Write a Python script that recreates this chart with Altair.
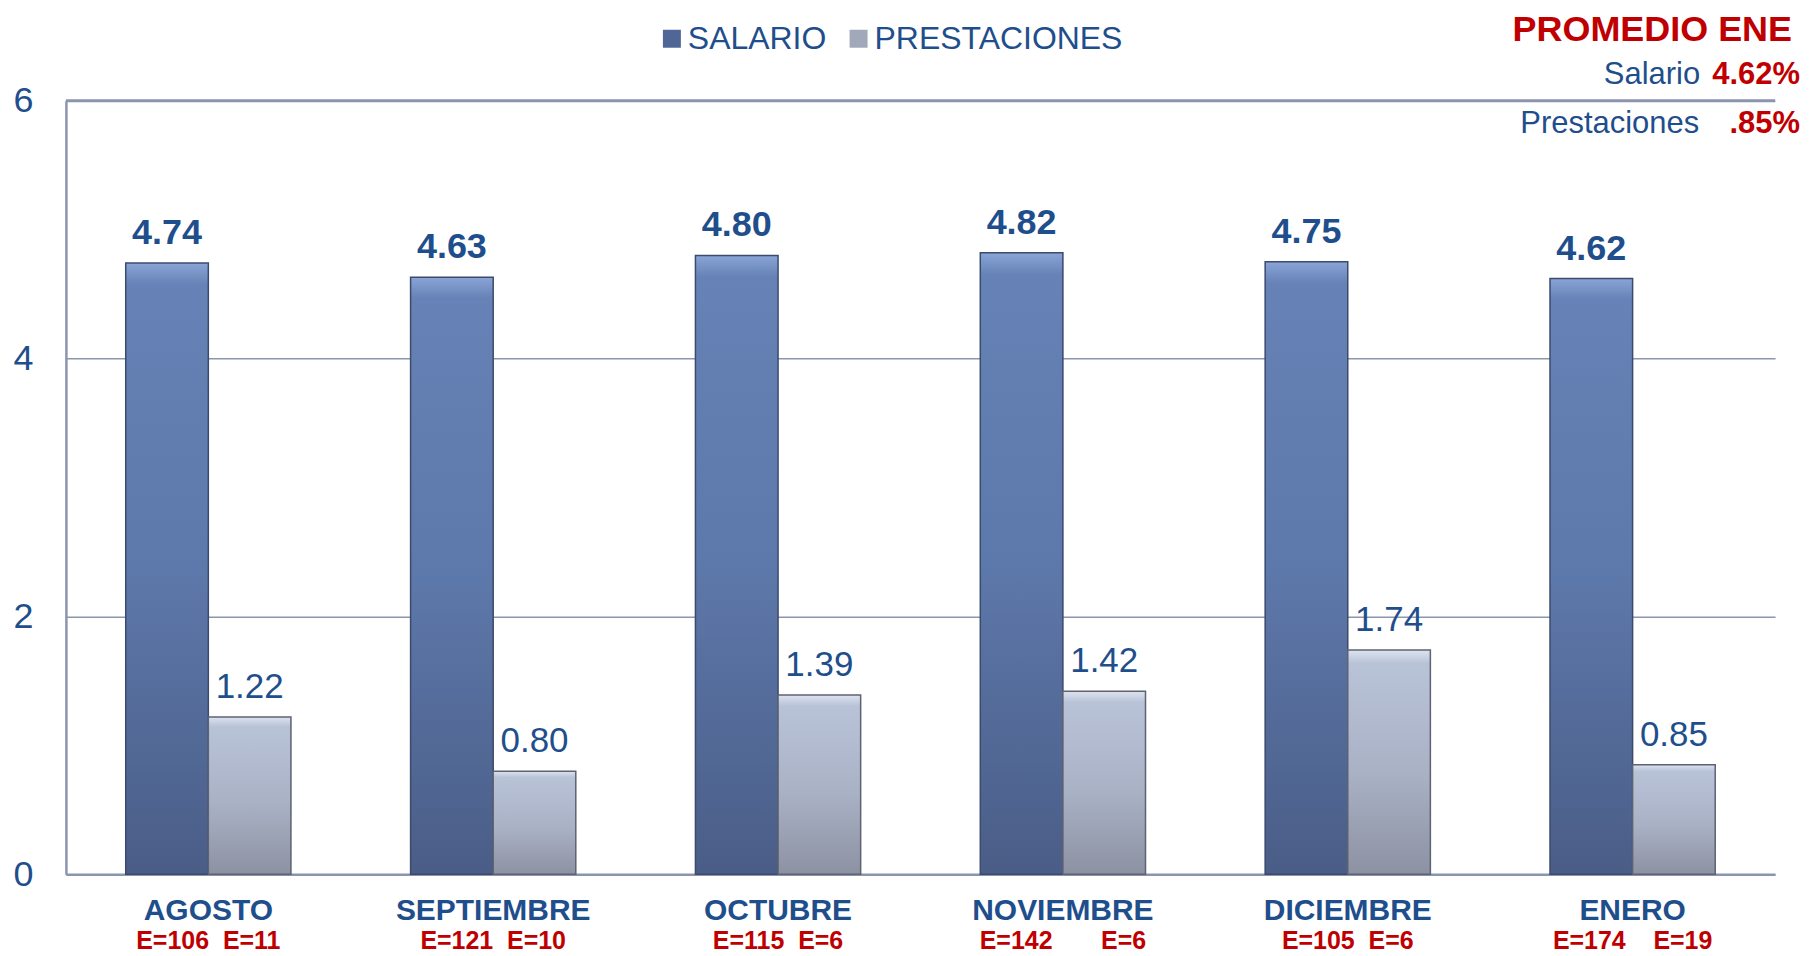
import altair as alt
import pandas as pd

# ---- data ----
months = ["AGOSTO", "SEPTIEMBRE", "OCTUBRE", "NOVIEMBRE", "DICIEMBRE", "ENERO"]
series = ["SALARIO", "PRESTACIONES"]
salario = [4.74, 4.63, 4.80, 4.82, 4.75, 4.62]
prestaciones = [1.22, 0.80, 1.39, 1.42, 1.74, 0.85]
NB = "\u00a0"
e_labels = [
    "E=106" + NB * 2 + "E=11",
    "E=121" + NB * 2 + "E=10",
    NB * 2 + "E=115" + NB * 2 + "E=6",
    "E=142" + NB * 7 + "E=6",
    "E=105" + NB * 2 + "E=6",
    "E=174" + NB * 4 + "E=19",
]
y_ticks = [0, 2, 4, 6]
promedio_title = ["PROMEDIO ENE"]
promedio_names = ["Salario", "Prestaciones"]
promedio_values = ["4.62%", ".85%"]

# ---- styles ----
F = "Liberation Sans"
BLUE = "#1F4E8C"
RED = "#C00000"
GRID = "#8B95AE"
W, H = 1712, 775

rows = []
for m, s, p in zip(months, salario, prestaciones):
    rows.append({"mes": m, "serie": "SALARIO", "valor": s})
    rows.append({"mes": m, "serie": "PRESTACIONES", "valor": p})
df = pd.DataFrame(rows)
df_e = pd.DataFrame({"mes": months, "e": e_labels})

x_enc = alt.X(
    "mes:N",
    sort=months,
    scale=alt.Scale(paddingInner=0.42, paddingOuter=0.21),
    axis=alt.Axis(
        title=None, labelFont=F, labelFontSize=30, labelFontWeight="bold",
        labelColor=BLUE, labelPadding=45, labelBaseline="alphabetic",
        labelAngle=0, labelLimit=0, ticks=False, tickSize=0, domainColor=GRID,
        domainWidth=2.5, grid=False,
    ),
)
y_enc = alt.Y(
    "valor:Q",
    scale=alt.Scale(domain=[0, 6], nice=False, zero=True),
    axis=alt.Axis(
        title=None, values=y_ticks, format="d", labelFont=F, labelFontSize=36,
        labelColor=BLUE, labelPadding=33, ticks=False, tickSize=0,
        gridColor=GRID, gridWidth=1.4, domainColor=GRID, domainWidth=2.5,
    ),
)
xo_enc = alt.XOffset(
    "serie:N", sort=series,
    scale=alt.Scale(domain=series, paddingInner=0, paddingOuter=0),
)

base = alt.Chart(df)

bars = base.mark_bar().encode(
    x=x_enc, y=y_enc, xOffset=xo_enc,
    color=alt.Color(
        "serie:N",
        scale=alt.Scale(domain=series, range=["#4F6696", "#A0A8BA"]),
        legend=alt.Legend(
            title=None, orient="none", legendX=591, legendY=-78,
            direction="horizontal", symbolType="square", symbolSize=324,
            symbolStrokeWidth=0, symbolOpacity=1, labelFont=F,
            labelFontSize=32, labelColor=BLUE, labelOffset=0, labelLimit=0,
            columnPadding=16, padding=0,
        ),
    ),
)

sal_grad = alt.Gradient(
    gradient="linear", x1=0, x2=0, y1=0, y2=1,
    stops=[
        alt.GradientStop(color="#8AA4D6", offset=0),
        alt.GradientStop(color="#6682B6", offset=0.035),
        alt.GradientStop(color="#5D78AA", offset=0.5),
        alt.GradientStop(color="#4A5D87", offset=1),
    ],
)
pre_grad = alt.Gradient(
    gradient="linear", x1=0, x2=0, y1=0, y2=1,
    stops=[
        alt.GradientStop(color="#DCE3F0", offset=0),
        alt.GradientStop(color="#B9C3D8", offset=0.06),
        alt.GradientStop(color="#A9B1C5", offset=0.55),
        alt.GradientStop(color="#8C92A2", offset=1),
    ],
)

sal_bars = base.transform_filter(alt.datum.serie == "SALARIO").mark_bar(
    fill=sal_grad, stroke="#3C4B6C", strokeWidth=1.5
).encode(x=x_enc, y=y_enc, xOffset=xo_enc)

pre_bars = base.transform_filter(alt.datum.serie == "PRESTACIONES").mark_bar(
    fill=pre_grad, stroke="#5E6372", strokeWidth=1.5
).encode(x=x_enc, y=y_enc, xOffset=xo_enc)

top_rule = alt.Chart(pd.DataFrame({"valor": [6]})).mark_rule(
    color=GRID, strokeWidth=3
).encode(y=alt.Y("valor:Q"))

lab_sal = base.transform_filter(alt.datum.serie == "SALARIO").mark_text(
    font=F, fontSize=36, fontWeight="bold", color=BLUE,
    baseline="alphabetic", dy=-19,
).encode(x=x_enc, y=y_enc, xOffset=xo_enc, text=alt.Text("valor:Q", format=".2f"))

lab_pre = base.transform_filter(alt.datum.serie == "PRESTACIONES").mark_text(
    font=F, fontSize=35, fontWeight="normal", color=BLUE,
    baseline="alphabetic", dy=-19,
).encode(x=x_enc, y=y_enc, xOffset=xo_enc, text=alt.Text("valor:Q", format=".2f"))

e_text = alt.Chart(df_e).mark_text(
    font=F, fontSize=25, fontWeight="bold", color=RED, baseline="alphabetic",
).encode(x=alt.X("mes:N", sort=months), y=alt.value(H + 75), text="e:N")

t_title = alt.Chart(pd.DataFrame({"t": promedio_title})).mark_text(
    font=F, fontSize=36, fontWeight="bold", color=RED,
    align="right", baseline="alphabetic",
).encode(x=alt.value(W + 17), y=alt.value(-60), text="t:N")

t_sal_name = alt.Chart(pd.DataFrame({"t": [promedio_names[0]]})).mark_text(
    font=F, fontSize=31, color=BLUE, align="right", baseline="alphabetic",
).encode(x=alt.value(W - 75), y=alt.value(-17), text="t:N")

t_sal_val = alt.Chart(pd.DataFrame({"t": [promedio_values[0]]})).mark_text(
    font=F, fontSize=31, fontWeight="bold", color=RED,
    align="right", baseline="alphabetic",
).encode(x=alt.value(W + 25), y=alt.value(-17), text="t:N")

t_pre_name = alt.Chart(pd.DataFrame({"t": [promedio_names[1]]})).mark_text(
    font=F, fontSize=31, color=BLUE, align="right", baseline="alphabetic",
).encode(x=alt.value(W - 76), y=alt.value(32), text="t:N")

t_pre_val = alt.Chart(pd.DataFrame({"t": [promedio_values[1]]})).mark_text(
    font=F, fontSize=31, fontWeight="bold", color=RED,
    align="right", baseline="alphabetic",
).encode(x=alt.value(W + 25), y=alt.value(32), text="t:N")

chart = alt.layer(
    bars, sal_bars, pre_bars, top_rule, lab_sal, lab_pre, e_text,
    t_title, t_sal_name, t_sal_val, t_pre_name, t_pre_val,
).properties(
    width=W, height=H,
    autosize=alt.AutoSizeParams(type="none"),
    padding={"left": 58, "top": 92, "right": 26, "bottom": 81},
).configure(
    font=F, view=alt.ViewConfig(strokeWidth=0, stroke="transparent")
)

chart.save("out.html", embed_options={"renderer": "svg", "actions": False})
